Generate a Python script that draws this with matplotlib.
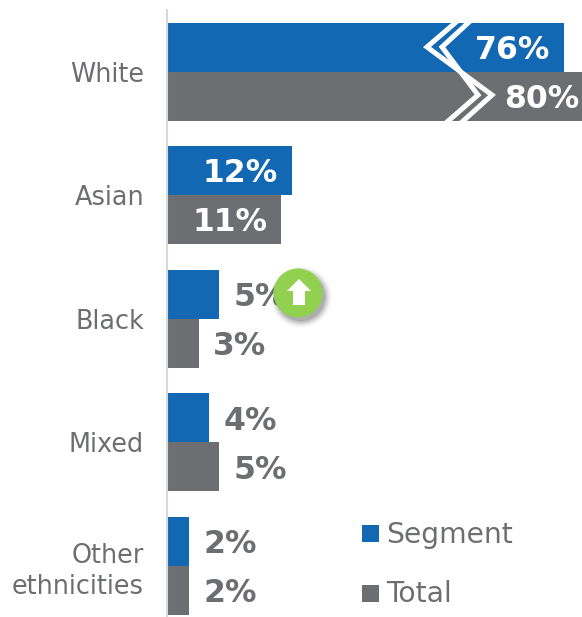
import matplotlib
matplotlib.use("Agg")
import matplotlib.pyplot as plt
from matplotlib.patches import Circle, Polygon, Rectangle
from matplotlib.lines import Line2D
from matplotlib.transforms import Affine2D
import numpy as np

categories = ["White", "Asian", "Black", "Mixed", "Other\nethnicities"]
segment = [76, 12, 5, 4, 2]
total = [80, 11, 3, 5, 2]

BLUE = "#1268b3"
GREY = "#6d6e71"
W, H = 582, 617

# the long bars are squeezed past the break, everything below it is linear
scale_val = [0, 30, 76, 80]
scale_px = [0, 309, 396, 425]


def forward(x):
    return np.interp(x, scale_val, scale_px)


def inverse(x):
    return np.interp(x, scale_px, scale_val)


fig = plt.figure(figsize=(W / 100, H / 100), dpi=100)
ax = fig.add_axes([168 / W, 0, 1 - 168 / W, 1])
ax.set_xscale("function", functions=(forward, inverse))
ax.set_xlim(0, inverse(W - 168))

# category spacing 123.4px, first one centred at y=72
ax.set_ylim((H - 72) / 123.4, -72 / 123.4)

# pixel coordinates from top left, for the decorations
px = Affine2D().scale(1 / W, -1 / H).translate(0, 1) + fig.transFigure

y = np.arange(len(categories))
bar_h = 49 / 123.4
ax.barh(y - bar_h / 2, segment, height=bar_h, color=BLUE, zorder=2)
ax.barh(y + bar_h / 2, total, height=bar_h, color=GREY, zorder=2)

for series, off in ((segment, -bar_h / 2), (total, bar_h / 2)):
    for i, v in enumerate(series):
        if v >= 10:
            ax.annotate(f"{v}%", (v, i + off), xytext=(-14 * 0.72, -3 * 0.72), textcoords="offset points",
                        ha="right", va="center", color="white", fontsize=22.7,
                        fontweight="bold", zorder=5, annotation_clip=False)
        else:
            ax.annotate(f"{v}%", (v, i + off), xytext=(14.5 * 0.72, -3.5 * 0.72), textcoords="offset points",
                        ha="left", va="center", color=GREY, fontsize=22.7,
                        fontweight="bold", zorder=3)

ax.set_yticks(y)
ax.set_yticklabels(categories, fontsize=18.4, color=GREY, linespacing=1.28)
ax.tick_params(axis="y", length=0, pad=24 * 0.72)
ax.xaxis.set_visible(False)
for s in ax.spines.values():
    s.set_visible(False)
ax.patch.set_visible(False)

# axis line
fig.add_artist(Line2D([167, 167], [10, 617], transform=px, color="#d9d9d9", lw=1.5))

# double chevron over the white bars
fig.add_artist(Line2D([455, 427, 492, 462], [23, 47, 95, 122], transform=px,
                      color="white", lw=3.6, solid_joinstyle="miter"))
fig.add_artist(Line2D([468, 442, 478, 447], [23, 47, 95, 122], transform=px,
                      color="white", lw=3.6, solid_joinstyle="miter"))

# legend
fig.add_artist(Rectangle((362, 525), 17, 17, transform=px, color=BLUE, lw=0))
fig.add_artist(Rectangle((362, 585), 17, 17, transform=px, color=GREY, lw=0))
fig.text(386 / W, 1 - 535 / H, "Segment", fontsize=20.3, color=GREY, ha="left", va="center")
fig.text(386 / W, 1 - 594 / H, "Total", fontsize=20.3, color=GREY, ha="left", va="center")

# green up badge with a soft shadow
for r, a in zip(np.arange(31, 23, -1), [0.015, 0.02, 0.03, 0.04, 0.05, 0.06, 0.07, 0.08]):
    fig.add_artist(Circle((301, 297), r, transform=px, color="black", alpha=a, lw=0, zorder=8))
fig.add_artist(Circle((298, 293), 24.5, transform=px, color="#92d050", lw=0, zorder=9))
fig.add_artist(Polygon([(299, 279), (311, 291), (305, 291), (305, 305), (293, 305), (293, 291), (287, 291)],
                       closed=True, transform=px, color="white", lw=0, zorder=10))

fig.savefig("out.png", dpi=100)
